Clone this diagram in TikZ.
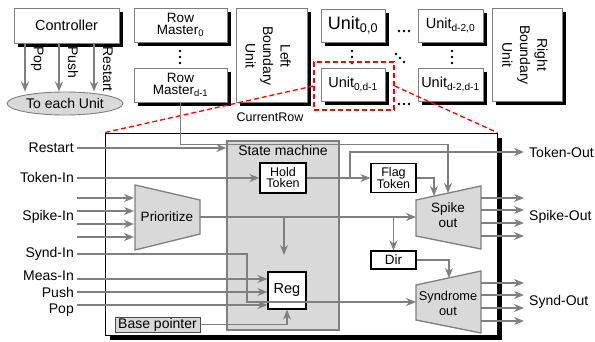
\documentclass[tikz,border=0pt]{standalone}
\usepackage{fontspec}
\setmainfont{Liberation Sans}
\usepackage{tikz}
\usetikzlibrary{shapes.geometric, arrows.meta, positioning, calc}
\definecolor{wire}{HTML}{7F7F7F}
\definecolor{shade}{HTML}{D9D9D9}

\begin{document}
\begin{tikzpicture}[x=1pt, y=-1pt,
    every node/.style={font=\fontsize{14}{15}\selectfont},
    top/.style={rectangle, draw=wire, fill=white, line width=0.9pt, align=center, inner sep=1pt,
                preaction={draw=none, fill=black, transform canvas={xshift=4pt, yshift=-4pt}}},
    blk/.style={rectangle, draw=black, fill=white, line width=1.2pt, align=center, inner sep=1pt},
    trap/.style={draw=wire, fill=shade, line width=1.3pt},
    arr/.style={-{Stealth[length=10pt, width=8pt]}, line width=1.6pt, wire},
    inp/.style={anchor=east, inner xsep=3pt, inner ysep=0pt},
    inpb/.style={anchor=base east, inner xsep=3pt, inner ysep=0pt},
    outp/.style={anchor=west, inner xsep=5pt, inner ysep=0pt},
]
    \useasboundingbox (0,0) rectangle (595,342);

    % controller
    \node[top, minimum width=105pt, minimum height=35pt, font=\fontsize{14.5}{15}\selectfont] (ctrl) at (66.5,25.5) {Controller};
    \node[ellipse, draw=wire, fill=shade, line width=0.9pt, minimum width=116pt, minimum height=23pt, inner sep=0pt] (each) at (65,103.5) {To each Unit};
    \foreach \dx/\txt in {-41.5/Pop, -7.5/Push, 27.5/Restart} {
        \draw[arr] ([xshift=\dx pt]ctrl.south) -- ([xshift=\dx pt]ctrl.south |- each.north);
        \node[rotate=-90, anchor=base west, inner sep=0pt, font=\fontsize{14}{14}\selectfont] (c\txt) at ($(ctrl.south)+(\dx+9,3)$) {\txt};
    }

    % row masters and units
    \node[top, minimum width=93pt, minimum height=34pt, font=\fontsize{13.5}{12.5}\selectfont] (rm0) at (180.5,25) {Row\\Master\textsubscript{0}};
    \node[top, minimum width=93pt, minimum height=34pt, font=\fontsize{13.5}{12.5}\selectfont] (rm1) at (180.5,85) {Row\\Master\textsubscript{d-1}};
    \node[top, minimum width=71pt, minimum height=94pt] (lbu) at (271.5,55) {};
    \node[rotate=-90, align=center, font=\fontsize{14}{17.5}\selectfont] (lbuT) at (268,56) {Left\\Boundary\\Unit};
    \node[top, minimum width=64pt, minimum height=33pt, font=\fontsize{18}{18}\selectfont] (u00) at (353,25.5) {Unit\textsubscript{0,0}};
    \node[top, minimum width=65pt, minimum height=33pt, font=\fontsize{14.5}{15}\selectfont] (ud0) at (450.5,25.5) {Unit\textsubscript{d-2,0}};
    \node[top, minimum width=64pt, minimum height=33pt, font=\fontsize{14.5}{15}\selectfont] (u0d) at (353,84.5) {Unit\textsubscript{0,d-1}};
    \node[top, minimum width=65pt, minimum height=33pt, font=\fontsize{14.5}{15}\selectfont] (udd) at (450.5,84.5) {Unit\textsubscript{d-2,d-1}};
    \node[top, minimum width=70pt, minimum height=93pt] (rbu) at (527,54.5) {};
    \node[rotate=-90, align=center, font=\fontsize{14}{17.5}\selectfont] (rbuT) at (525,55) {Right\\Boundary\\Unit};
    % ellipsis dots
    \foreach \p in {(180,51),(180,57),(180,63),(352,51),(352,57),(352,63),(452,51),(452,57),(452,63),
                    (399,31),(404,31),(409,31),(399,104),(404,104),(409,104),(396,54),(400,58),(404,62)}
        \fill \p circle (1.4pt);
    \node[font=\fontsize{12.5}{13}\selectfont] (cr) at (270,117) {CurrentRow};

    % zoomed unit
    \node[draw=black, fill=white, line width=0.8pt, minimum width=392pt, minimum height=202pt,
          preaction={draw=none, fill=black, transform canvas={xshift=5pt, yshift=-5pt}}] (core) at (301,234) {};
    \node[draw=red, dash pattern=on 5pt off 3pt, line width=1.3pt, minimum width=80pt, minimum height=48pt] (sel) at (354,86) {};
    \draw[red, dash pattern=on 5pt off 3pt, line width=1.3pt] (sel.west) -- (core.north west);
    \draw[red, dash pattern=on 5pt off 3pt, line width=1.3pt] (sel.east) -- (core.north east);

    \node[draw=wire, fill=shade, line width=1.3pt, minimum width=112pt, minimum height=189pt] (sm) at (283,235.5) {};
    \node (smT) at (283,150) {State machine};
    \node[blk, minimum width=46pt, minimum height=30pt, font=\fontsize{12.5}{11}\selectfont] (hold) at (283,178) {Hold\\Token};
    \node[blk, minimum width=45pt, minimum height=29pt, font=\fontsize{12.5}{11}\selectfont] (flag) at (393.5,178) {Flag\\Token};
    \node[blk, minimum width=45pt, minimum height=18pt, font=\fontsize{13.5}{14}\selectfont] (dir) at (393.5,260) {Dir};
    \node[blk, minimum width=38pt, minimum height=37pt, font=\fontsize{14.5}{15}\selectfont] (reg) at (287,290.5) {Reg};
    \node[draw=black!70, fill=shade, line width=1pt, minimum width=85pt, minimum height=15pt, inner sep=0pt] (bp) at (157.5,324.5) {Base pointer};

    \draw[trap] (135,185) -- (200,200) -- (200,234) -- (135,250) -- cycle;
    \node[font=\fontsize{13.5}{14}\selectfont] (prio) at (167,217) {Prioritize};
    \draw[trap] (416,200) -- (481,186) -- (481,249) -- (416,236) -- cycle;
    \node[align=center, font=\fontsize{13.5}{15}\selectfont] (spk) at (448,215.5) {Spike\\out};
    \draw[trap] (416,285) -- (481,271) -- (481,333) -- (416,320) -- cycle;
    \node[align=center, font=\fontsize{12.8}{15}\selectfont] (syn) at (448,303) {Syndrome\\out};

    \coordinate (prioW) at (135,217);
    \coordinate (prioE) at (200,217);
    \coordinate (spkW) at (416,217);
    \coordinate (spkE) at (481,217);
    \coordinate (spkTop) at (448,193);
    \coordinate (spkTop2) at (434,196);
    \coordinate (synW) at (416,302);
    \coordinate (synE) at (481,302);
    \coordinate (synTop) at (449,278);
    \coordinate (tap) at (350,178);
    \coordinate (hang) at (284,255);

    % port labels
    \node[inp] (lrst) at (77,147.5) {Restart};
    \node[inp] (ltok) at (77,177.5) {Token-In};
    \node[inp] (lspk) at (77,216.5) {Spike-In};
    \node[inp] (lsyn) at (77,254) {Synd-In};
    \node[inpb] (lmeas) at (77,280) {Meas-In};
    \node[inpb] (lpush) at (77,297) {Push};
    \node[inpb] (lpop) at (77,313) {Pop};
    \node[outp] (ltko) at (524,152) {Token-Out};
    \node[outp] (lspo) at (524,217) {Spike-Out};
    \node[outp] (lsyo) at (524,302) {Synd-Out};

    % wires
    \draw[arr] (rm1.south) -- ++(0,42) -| (spkTop);
    \draw[arr] ($(lrst.east)+(0,0.5)$) -- ($(lrst.east -| sm.west)+(0,0.5)$);
    \draw[arr] ($(ltok.east)+(0,0.5)$) -- ($(ltok.east -| hold.west)+(0,0.5)$);
    \draw[arr] (hold) -- (flag);
    \draw[arr] (tap) |- (ltko.west);
    \draw[arr] (flag.east) -| (spkTop2);
    \foreach \dy in {-18.5,-5.5,7.5,20.5}
        \draw[arr] ($(lspk.east)+(0,\dy)$) -- ($(lspk.east -| prioW)+(-1,\dy)$);
    \draw[arr] (prioE) -- (spkW);
    \draw[arr] (hang |- prioE) -- (hang);
    \draw[arr] (dir |- prioE) -- (dir);
    \draw[arr] (dir.east) -| (synTop);
    \foreach \dy in {-19,-7,6,19} {
        \draw[arr] ($(spkE)+(0,\dy)$) -- ($(lspo.west)+(0,\dy)$);
        \draw[arr] ($(synE)+(0,\dy)$) -- ($(lsyo.west)+(0,\dy)$);
    }
    \draw[arr] (lsyn.east) -- ++(170,0) |- (synW);
    \draw[arr] ($(lmeas.base east)+(0,-1)$) -- ($(lmeas.base east -| reg.west)+(0,-1)$);
    \draw[arr] ($(lpush.base east)+(0,-5)$) -- ($(lpush.base east -| reg.west)+(0,-5)$);
    \draw[arr] ($(lpop.base east)+(0,-8)$) -- ($(lpop.base east -| reg.west)+(0,-8)$);
    \draw[arr] (bp.east) -| (reg.south);
\end{tikzpicture}
\end{document}
